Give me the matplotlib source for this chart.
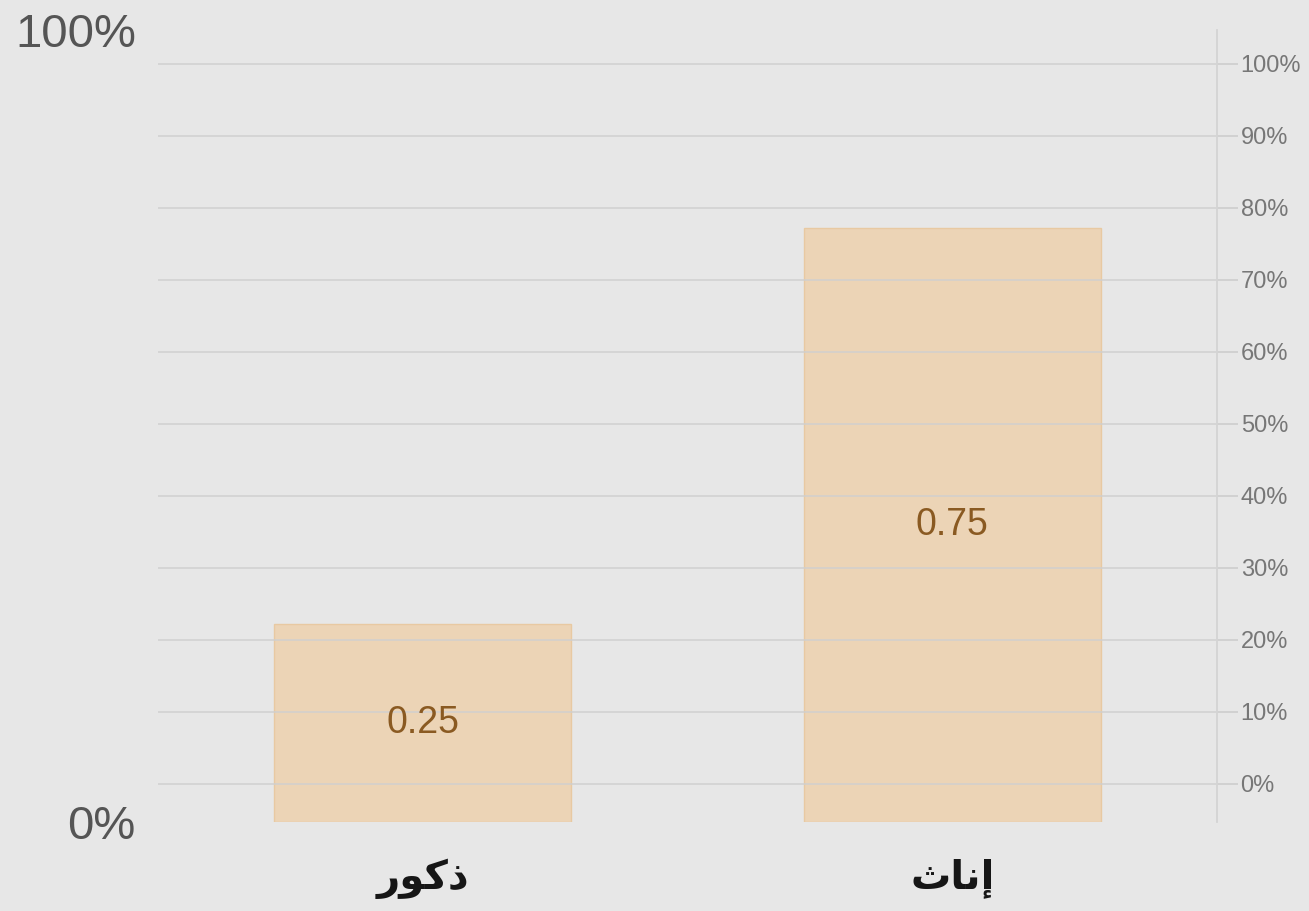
import matplotlib
matplotlib.use("Agg")
import matplotlib.pyplot as plt
import numpy as np

# data
categories = ["ذكور", "إناث"]
# presentation forms (matplotlib does no Arabic shaping)
cat_display = ["\uFEAD\uFEEE\uFEDB\uFEAB", "\uFE99\uFE8E\uFEE7\uFE87"]
values = [0.25, 0.75]
right_ticks = [i / 10 for i in range(11)]
left_ticks = [0, 1]

BG = "#e7e7e7"
BAR = "#ecd4b6"
GRID = "#cfcfcf"

plt.rcParams["font.family"] = ["Liberation Sans", "DejaVu Sans"]

fig = plt.figure(figsize=(13.09, 9.11), dpi=100, facecolor=BG)
ax = fig.add_axes([158 / 1309, 1 - 822 / 911, (1217 - 158) / 1309, (822 - 30) / 911])
ax.set_facecolor(BG)

x = np.arange(len(values))
ax.bar(x, values, 0.56, color=BAR, edgecolor="#e8c9a2", linewidth=1)
ax.set_xlim(-0.5, 1.5)
ax.set_ylim(0, 1)
ax.set_yticks(left_ticks)
ax.set_yticklabels(["0%", "100%"], fontsize=34, color="#555555")
ax.tick_params(axis="y", length=0, pad=16)
ax.set_xticks(x)
ax.set_xticklabels(cat_display, fontsize=29, fontweight="bold",
                   family="DejaVu Sans", color="#161616")
ax.tick_params(axis="x", length=0, pad=26)
for s in ax.spines.values():
    s.set_visible(False)

# second scale on the right, with the grid
ax2 = ax.twinx()
ax2.set_ylim(-0.0528, 1.0472)
ax2.set_yticks(right_ticks)
ax2.set_yticklabels([f"{int(round(t * 100))}%" for t in right_ticks],
                    fontsize=17, color="#777777")
ax2.tick_params(axis="y", length=15, width=1.3, color=GRID, pad=2)
ax2.grid(axis="y", color=GRID, linewidth=1.3, alpha=0.8)
for s in ["left", "top", "bottom"]:
    ax2.spines[s].set_visible(False)
ax2.spines["right"].set_color("#d4d4d4")
ax2.spines["right"].set_linewidth(1.3)

for xi, v in zip(x, values):
    ax2.text(xi, v / 2, f"{v:.2f}", transform=ax.transData, ha="center",
             va="center", fontsize=27, color="#8a5a22")

fig.savefig("out.png", dpi=100, facecolor=BG)
